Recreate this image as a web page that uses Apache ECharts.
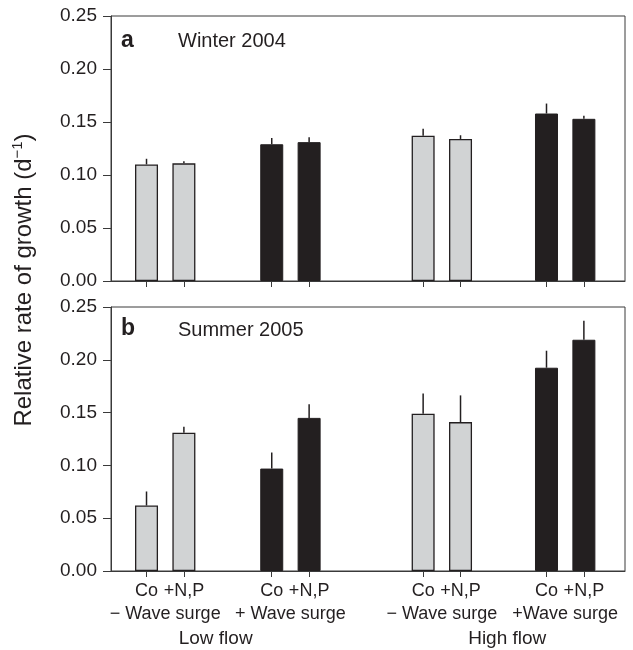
<!DOCTYPE html>
<html><head><meta charset="utf-8">
<script src="https://cdn.jsdelivr.net/npm/echarts@6/dist/echarts.min.js"></script>
<style>html,body{margin:0;padding:0;background:#fff}#c{width:633px;height:650px}</style>
</head><body><div id="c"></div>
<script>
// ---- data ----
const treatments = ['Co', '+N,P', 'Co', '+N,P', 'Co', '+N,P', 'Co', '+N,P'];
const barPos = [0.95, 1.95, 4.3, 5.3, 8.35, 9.35, 11.65, 12.65];
const surgeGroups = ['− Wave surge', '+ Wave surge', '− Wave surge', '+Wave surge'];
const surgePos = [1.45, 4.8, 8.85, 12.15];
const flowGroups = ['Low flow', 'High flow'];
const flowPos = [2.8, 10.6];
const waveSurge = [false, false, true, true, false, false, true, true];
const winterMean = [0.110, 0.111, 0.129, 0.131, 0.137, 0.134, 0.158, 0.153];
const winterErr = [0.0053, 0.002, 0.0059, 0.0047, 0.0066, 0.0035, 0.0094, 0.0028];
const summerMean = [0.062, 0.131, 0.097, 0.145, 0.149, 0.141, 0.1925, 0.219];
const summerErr = [0.0133, 0.0057, 0.0152, 0.0129, 0.0192, 0.0253, 0.0161, 0.018];
const panelLetters = ['a', 'b'];
const panelTitles = ['Winter 2004', 'Summer 2005'];
const yMin = 0, yMax = 0.25, yStep = 0.05;
const xMax = 13.75;

// ---- styling ----
const FONT = '"Liberation Sans", Arial, Helvetica, sans-serif';
const INK = '#231f20';
const GREY = '#d1d3d4';
const AXIS = '#3a3a3a';

const chart = echarts.init(document.getElementById('c'), null, {renderer: 'canvas'});

function yAxisFor(g) {
  return {
    gridIndex: g, type: 'value', min: yMin, max: yMax, interval: yStep,
    axisLine: {show: true, lineStyle: {color: AXIS, width: 1}},
    axisTick: {show: true, inside: false, length: 8, lineStyle: {color: AXIS, width: 1}},
    axisLabel: {show: true, margin: 14, fontSize: 19, fontFamily: FONT, color: INK,
      formatter: v => v.toFixed(2)},
    splitLine: {show: false}
  };
}

function barSeries(g, means) {
  return {
    type: 'bar', xAxisIndex: g === 0 ? 0 : 1, yAxisIndex: g, barWidth: 23,
    data: barPos.map((x, i) => ({
      value: [x, means[i]],
      itemStyle: waveSurge[i]
        ? {color: INK, borderColor: INK, borderWidth: 1}
        : {color: GREY, borderColor: INK, borderWidth: 1.3}
    })),
    animation: false, z: 2
  };
}

function errSeries(g, means, errs) {
  return {
    type: 'custom', xAxisIndex: g === 0 ? 0 : 1, yAxisIndex: g,
    data: barPos.map((x, i) => [x, means[i], errs[i]]),
    renderItem: (params, api) => {
      const x = api.value(0), y = api.value(1), e = api.value(2);
      const p0 = api.coord([x, y]);
      const p1 = api.coord([x, y + e]);
      return {type: 'line', shape: {x1: p0[0], y1: p0[1], x2: p1[0], y2: p1[1]},
        style: {stroke: INK, lineWidth: 1.5}};
    },
    animation: false, z: 3
  };
}

const option = {
  backgroundColor: '#fff',
  animation: false,
  grid: [
    {left: 111, right: 8, top: 16, height: 265, show: true, borderColor: AXIS, borderWidth: 1, containLabel: false},
    {left: 111, right: 8, top: 307, height: 264, show: true, borderColor: AXIS, borderWidth: 1, containLabel: false}
  ],
  title: [
    {text: panelLetters[0], left: 121, top: 29, padding: 0, textStyle: {fontSize: 23, fontWeight: 'bold', color: INK, fontFamily: FONT}},
    {text: panelTitles[0], left: 178, top: 31, padding: 0, textStyle: {fontSize: 20, fontWeight: 'normal', color: INK, fontFamily: FONT}},
    {text: panelLetters[1], left: 121, top: 317, padding: 0, textStyle: {fontSize: 23, fontWeight: 'bold', color: INK, fontFamily: FONT}},
    {text: panelTitles[1], left: 178, top: 320, padding: 0, textStyle: {fontSize: 20, fontWeight: 'normal', color: INK, fontFamily: FONT}}
  ],
  xAxis: [
    {gridIndex: 0, type: 'value', min: 0, max: xMax,
      axisLine: {show: true, lineStyle: {color: AXIS}},
      axisTick: {show: true, inside: false, length: 6, customValues: barPos, lineStyle: {color: AXIS}},
      axisLabel: {show: false}, splitLine: {show: false}},
    {gridIndex: 1, type: 'value', min: 0, max: xMax,
      axisLine: {show: true, lineStyle: {color: AXIS}},
      axisTick: {show: true, inside: false, length: 6, customValues: barPos, lineStyle: {color: AXIS}},
      axisLabel: {show: true, customValues: barPos, margin: 11, fontSize: 18, fontFamily: FONT, color: INK,
        formatter: v => treatments[barPos.indexOf(v)] || ''},
      splitLine: {show: false}},
    {gridIndex: 1, type: 'value', min: 0, max: xMax, position: 'bottom', offset: 23,
      axisLine: {show: false}, axisTick: {show: false},
      axisLabel: {show: true, customValues: surgePos, margin: 11, fontSize: 18, fontFamily: FONT, color: INK,
        formatter: v => surgeGroups[surgePos.indexOf(v)] || ''},
      splitLine: {show: false}},
    {gridIndex: 1, type: 'value', min: 0, max: xMax, position: 'bottom', offset: 47,
      axisLine: {show: false}, axisTick: {show: false},
      axisLabel: {show: true, customValues: flowPos, margin: 11, fontSize: 19, fontFamily: FONT, color: INK,
        formatter: v => flowGroups[flowPos.indexOf(v)] || ''},
      splitLine: {show: false}}
  ],
  yAxis: [yAxisFor(0), yAxisFor(1)],
  series: [
    barSeries(0, winterMean), errSeries(0, winterMean, winterErr),
    barSeries(1, summerMean), errSeries(1, summerMean, summerErr)
  ],
  graphic: [{
    type: 'text', x: 24, y: 280, rotation: Math.PI / 2,
    style: {
      text: '{a|Relative rate of growth (d}{s|−1}{a|)}',
      fill: INK, align: 'center', verticalAlign: 'middle', fontFamily: FONT,
      rich: {
        a: {fontSize: 24, fontFamily: FONT, fill: INK, lineHeight: 28, verticalAlign: 'middle'},
        s: {fontSize: 15, fontFamily: FONT, fill: INK, lineHeight: 28, verticalAlign: 'top'}
      }
    }
  }]
};
chart.setOption(option);
</script>
</body></html>
